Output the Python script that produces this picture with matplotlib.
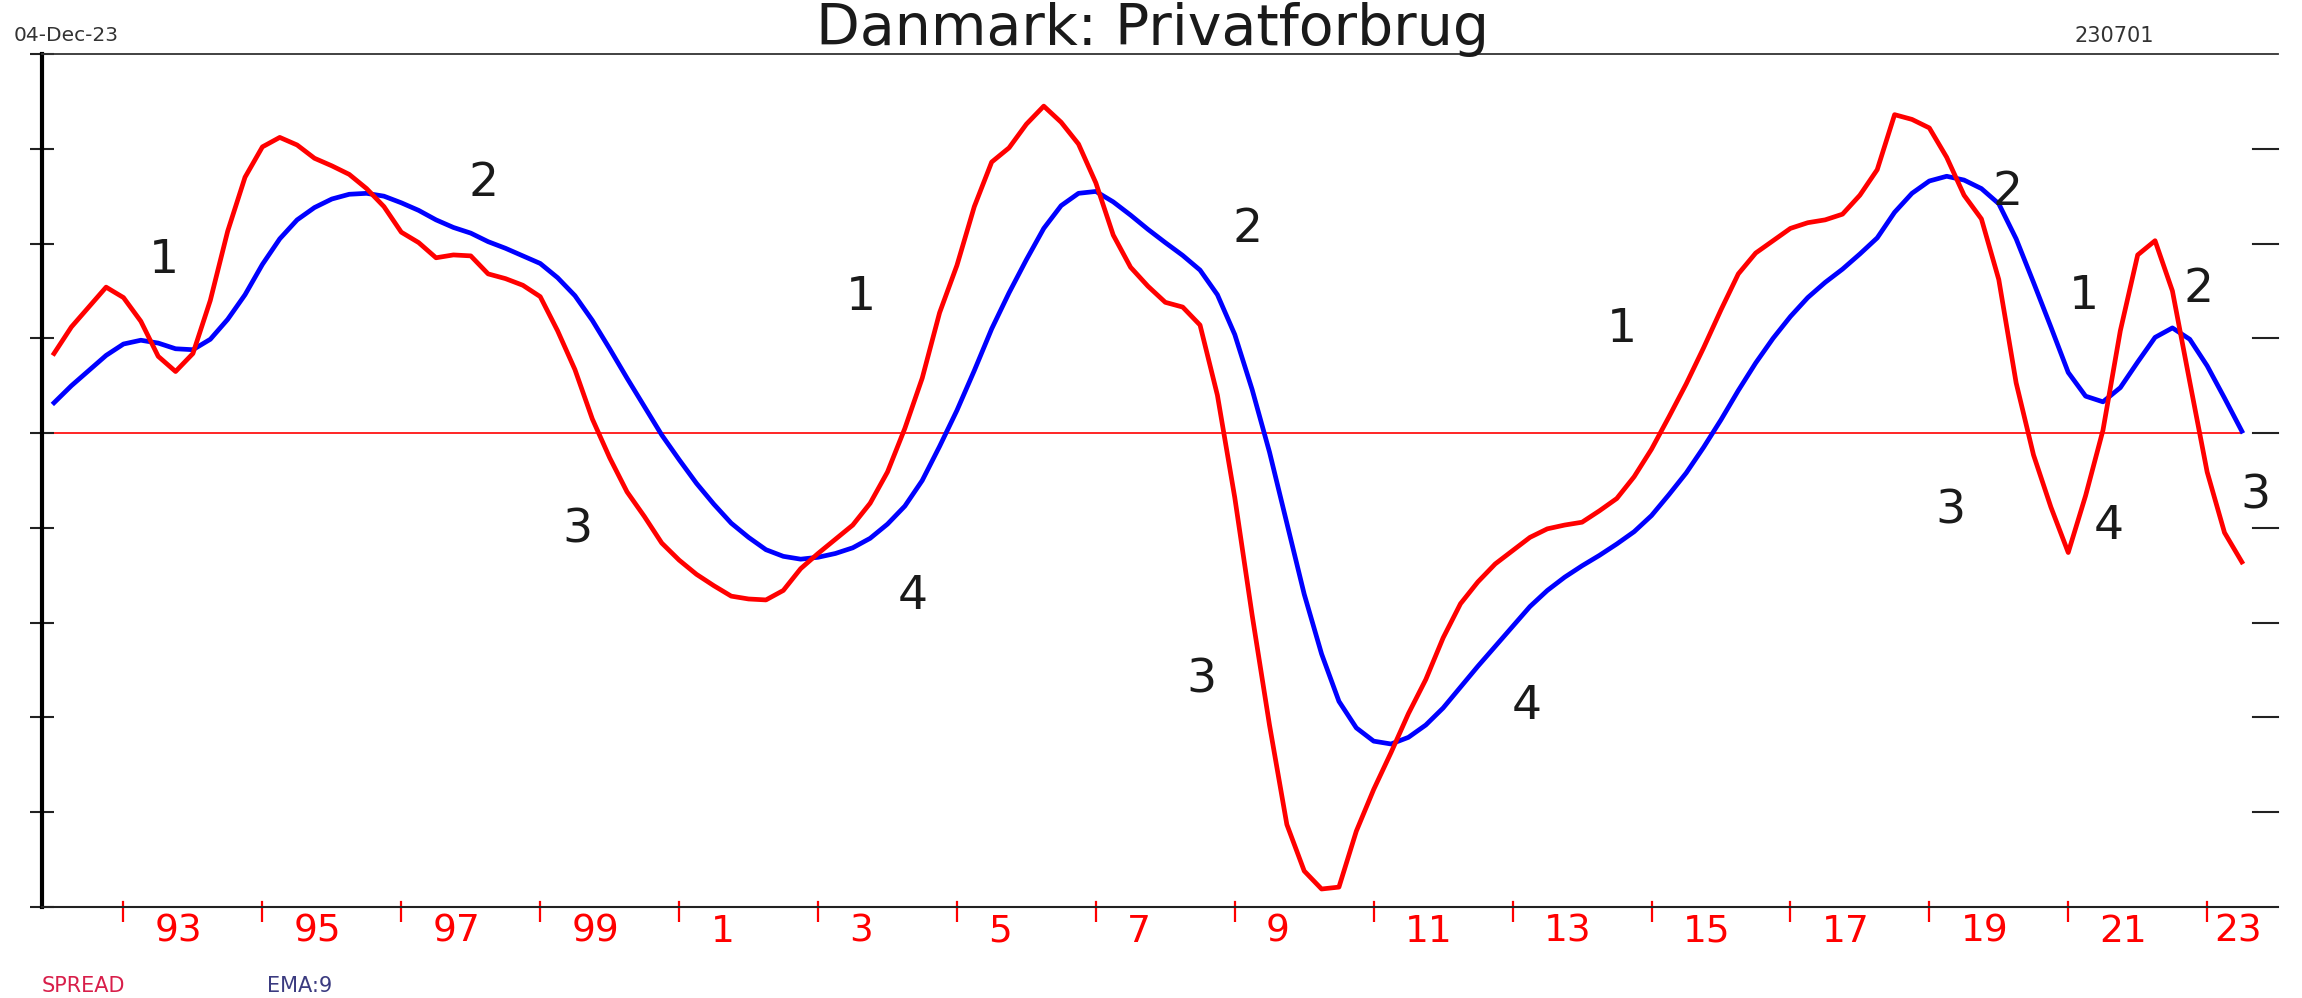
import numpy as np
import pandas as pd
import matplotlib
matplotlib.use("Agg")
import matplotlib.pyplot as plt


# quarterly data, 1992Q1 .. 2023Q3
quarters = pd.period_range("1992Q1", "2023Q3", freq="Q")

spread = [
    0.84, 1.12, 1.33, 1.54, 1.43, 1.18, 0.81, 0.65, 0.84, 1.40,
    2.13, 2.70, 3.02, 3.12, 3.04, 2.90, 2.82, 2.73, 2.58, 2.39,
    2.12, 2.01, 1.85, 1.88, 1.87, 1.68, 1.63, 1.56, 1.44, 1.08,
    0.67, 0.15, -0.26, -0.62, -0.88, -1.16, -1.34, -1.49, -1.61, -1.72,
    -1.75, -1.76, -1.66, -1.43, -1.27, -1.12, -0.97, -0.74, -0.41, 0.05,
    0.58, 1.27, 1.77, 2.39, 2.86, 3.01, 3.26, 3.45, 3.28, 3.05,
    2.64, 2.09, 1.75, 1.55, 1.38, 1.33, 1.14, 0.40, -0.68, -1.92,
    -3.08, -4.13, -4.62, -4.81, -4.79, -4.20, -3.76, -3.37, -2.96, -2.60,
    -2.16, -1.80, -1.57, -1.38, -1.24, -1.10, -1.01, -0.97, -0.94, -0.82,
    -0.69, -0.46, -0.17, 0.17, 0.52, 0.90, 1.30, 1.68, 1.90, 2.03,
    2.16, 2.22, 2.25, 2.31, 2.51, 2.78, 3.36, 3.31, 3.22, 2.91,
    2.51, 2.26, 1.62, 0.53, -0.23, -0.78, -1.26, -0.66, 0.03, 1.08,
    1.88, 2.03, 1.50, 0.54, -0.41, -1.05, -1.36,
]

ema9 = [
    0.32, 0.50, 0.66, 0.82, 0.94, 0.98, 0.95, 0.89, 0.88, 0.99,
    1.20, 1.46, 1.78, 2.05, 2.25, 2.38, 2.47, 2.52, 2.53, 2.50,
    2.43, 2.35, 2.25, 2.17, 2.11, 2.02, 1.95, 1.87, 1.79, 1.64,
    1.45, 1.19, 0.89, 0.58, 0.28, -0.02, -0.28, -0.53, -0.75, -0.95,
    -1.10, -1.23, -1.30, -1.33, -1.31, -1.27, -1.21, -1.11, -0.96, -0.77,
    -0.50, -0.14, 0.24, 0.66, 1.10, 1.48, 1.83, 2.16, 2.40, 2.53,
    2.55, 2.44, 2.30, 2.15, 2.01, 1.875, 1.72, 1.46, 1.04, 0.46,
    -0.20, -0.95, -1.70, -2.33, -2.83, -3.11, -3.25, -3.28, -3.21, -3.08,
    -2.90, -2.68, -2.46, -2.25, -2.04, -1.83, -1.66, -1.52, -1.40, -1.29,
    -1.17, -1.04, -0.87, -0.65, -0.42, -0.15, 0.14, 0.45, 0.74, 1.00,
    1.23, 1.43, 1.59, 1.73, 1.89, 2.06, 2.33, 2.53, 2.66, 2.71,
    2.67, 2.58, 2.42, 2.05, 1.59, 1.12, 0.64, 0.39, 0.33, 0.48,
    0.75, 1.01, 1.11, 0.99, 0.71, 0.37, 0.02,
]

tick_years = list(range(1993, 2024, 2))
tick_labels = ["93", "95", "97", "99", "1", "3", "5", "7", "9",
               "11", "13", "15", "17", "19", "21", "23"]

# cycle phase marks written on the chart
phase_text = ["1", "2", "3", "4", "1", "2", "3", "4",
              "1", "2", "3", "1", "2", "4", "3"]
phase_x = [1993.58, 1998.18, 1999.53, 2004.37, 2003.61, 2009.19, 2008.52,
           2013.21, 2014.58, 2020.12, 2019.30, 2021.23, 2022.87, 2021.59,
           2023.69]
phase_y = [1.82, 2.63, -1.02, -1.72, 1.43, 2.15, -2.60, -2.88, 1.09,
           2.54, -0.82, 1.44, 1.52, -0.99, -0.66]


def main():
    plt.rcParams["font.family"] = ["DejaVu Sans"]
    t = quarters.year + (quarters.quarter - 1) / 4.0

    fig = plt.figure(figsize=(23.02, 9.98), dpi=100)
    ax = fig.add_axes([0.01825, 0.09118, 0.97132, 0.85471])
    x_left, x_right = 1991.827, 2024.02
    ax.set_xlim(x_left, x_right)
    ax.set_ylim(-5, 4)

    ax.hlines(0, x_left, t[-1], color="#ff0000", lw=1.2, zorder=1)
    ax.plot(t, spread, color="#ff0000", lw=3.4, zorder=3)
    ax.plot(t, ema9, color="#0000ff", lw=3.4, zorder=2)

    for s, px, py in zip(phase_text, phase_x, phase_y):
        ax.text(px, py, s, fontsize=34, color="#1a1a1a",
                ha="center", va="center", zorder=4)

    # spines
    ax.spines["right"].set_visible(False)
    ax.spines["left"].set_linewidth(3.0)
    ax.spines["left"].set_color("black")
    ax.spines["top"].set_linewidth(1.3)
    ax.spines["top"].set_color("#333333")
    ax.spines["bottom"].set_linewidth(1.5)
    ax.spines["bottom"].set_color("#222222")

    # y ticks: left ones cross the axis, right ones are short inward dashes
    yt = [-4, -3, -2, -1, 0, 1, 2, 3]
    ax.set_yticks([-5] + yt + [4])
    ax.tick_params(axis="y", direction="inout", length=17, width=1.5,
                   color="#222222", labelleft=False, right=False)
    for yv in yt:
        ax.plot([1 - 25 / 2236.0, 1], [yv, yv],
                transform=ax.get_yaxis_transform(),
                color="#222222", lw=1.5, clip_on=False)

    # x ticks (red), labels placed after each tick
    ax.set_xticks(tick_years)
    ax.set_xticklabels([])
    ax.tick_params(axis="x", direction="out", length=11, width=1.6,
                   color="#ff0000")
    for yr in tick_years:
        ax.plot([yr, yr], [0, 0.006], transform=ax.get_xaxis_transform(),
                color="#ff0000", lw=1.6, clip_on=False)
    for yr, lab in zip(tick_years, tick_labels):
        xpos = yr + 0.45 if yr < 2023 else yr + 0.1
        ax.text(xpos, -5.07, lab, fontsize=27, color="#ff0000",
                ha="left", va="top", clip_on=False)

    # header texts
    fig.text(0.5005, 0.970, "Danmark: Privatforbrug", fontsize=41,
             color="#1a1a1a", ha="center", va="center")
    fig.text(0.006, 0.964, "04-Dec-23", fontsize=14.5, color="#333333",
             ha="left", va="center")
    fig.text(0.9183, 0.964, "230701", fontsize=15, color="#333333",
             ha="center", va="center")

    # legend texts at bottom
    fig.text(0.0182, 0.012, "SPREAD", fontsize=15, color="#d81e4a",
             ha="left", va="center")
    fig.text(0.116, 0.012, "EMA:9", fontsize=15, color="#3b3b80",
             ha="left", va="center")

    fig.savefig("out.png", dpi=100)
    plt.close(fig)


if __name__ == "__main__":
    main()
